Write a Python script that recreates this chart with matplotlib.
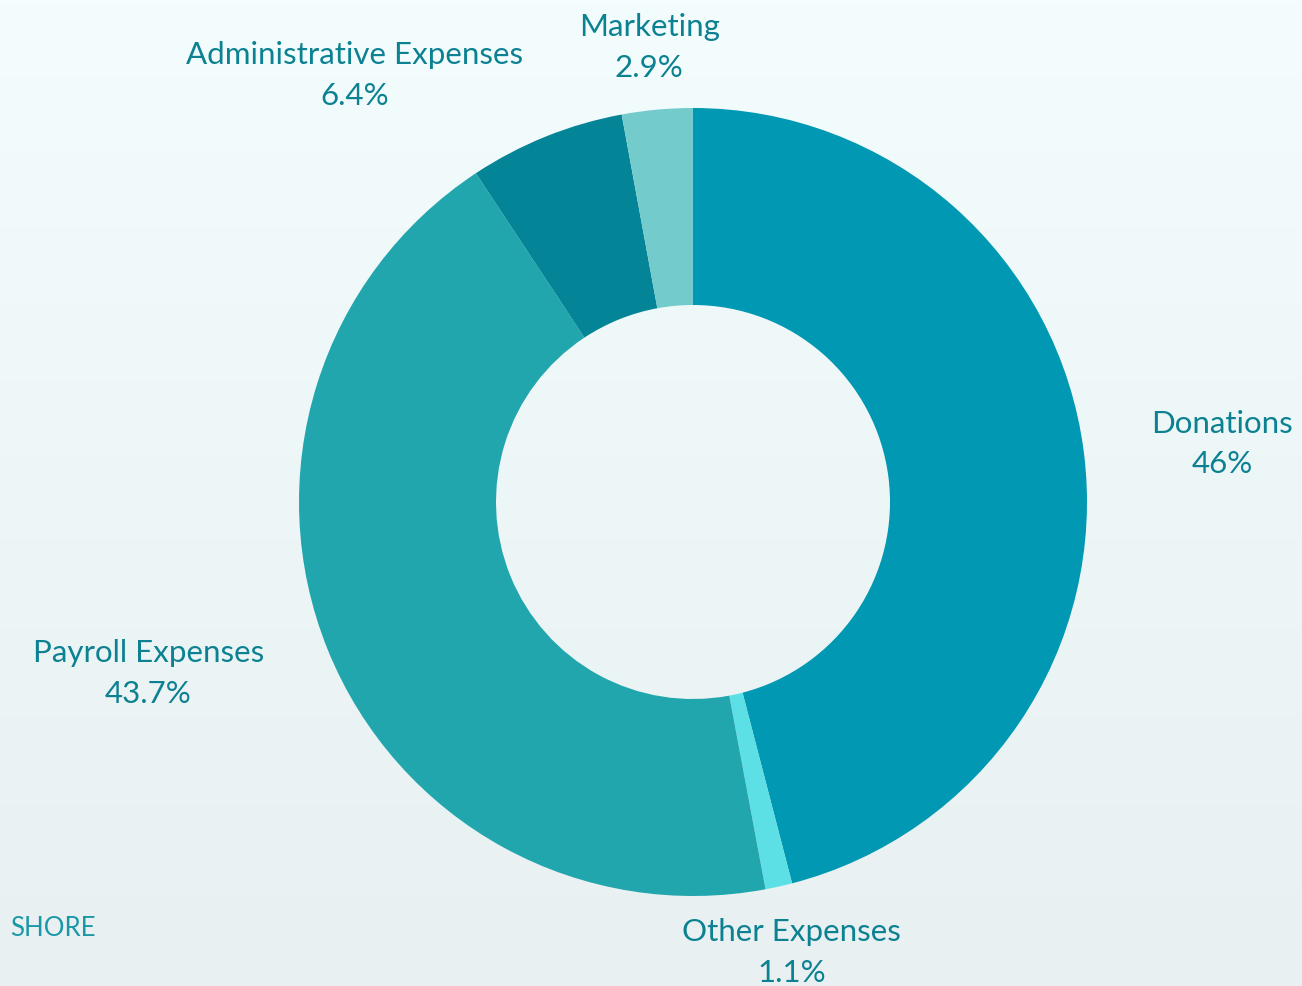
import numpy as np
import matplotlib.pyplot as plt

# data
labels = ['Donations', 'Other Expenses', 'Payroll Expenses', 'Administrative Expenses', 'Marketing']
values = [46.0, 1.1, 43.7, 6.4, 2.9]
pct_text = ['46%', '1.1%', '43.7%', '6.4%', '2.9%']
colors = ['#0098b2', '#5ce0e6', '#22a6ad', '#048597', '#74cbcc']

W, H = 1302, 986
CX, CY = 693, H - 502
R = 394
TXT = '#0b8192'

plt.rcParams['font.family'] = ['Lato', 'DejaVu Sans']

fig = plt.figure(figsize=(W / 100, H / 100), dpi=100)
ax = fig.add_axes([0, 0, 1, 1])

# background gradient
top = np.array([243, 253, 253]) / 255
bot = np.array([232, 240, 241]) / 255
t = np.linspace(0, 1, 256)[:, None]
grad = (top * (1 - t) + bot * t)[:, None, :]
ax.imshow(grad, extent=[0, W, 0, H], aspect='auto', zorder=0)

wedges, _ = ax.pie(values, colors=colors, startangle=90, counterclock=False,
                   radius=R, center=(CX, CY), frame=True,
                   wedgeprops=dict(width=R * 0.5, linewidth=0))
ax.set_xlim(0, W)
ax.set_ylim(0, H)
ax.axis('off')

# labels around the ring
cum = np.cumsum([0] + values[:-1])
d = R + 28
for lab, v, c0, p in zip(labels, values, cum, pct_text):
    ang = np.deg2rad((c0 + v / 2) / 100 * 360)
    s, c = np.sin(ang), np.cos(ang)
    x, y = CX + d * s, CY + d * c
    if s > 0.3:
        ha = 'left'
        x += 40 * abs(s)
    elif s < -0.3:
        ha = 'right'
        x -= 40 * abs(s)
    else:
        ha = 'center'
        x += 8 * np.sign(s)
    if c > 0.5:
        va = 'bottom'
    elif c < -0.5:
        va = 'top'
        y -= 4
    else:
        va = 'center'
        y += c * 40
    ax.text(x, y, f'{lab}\n{p}', ha=ha, va=va, fontsize=22.5, color=TXT,
            multialignment='center', linespacing=1.55, zorder=5)

# watermark bottom left
fig.text(10 / W, 1 - 928 / H, 'SHORE', fontsize=18.5, color='#1a98a8',
         ha='left', va='center')

fig.savefig('out.png', dpi=100)
